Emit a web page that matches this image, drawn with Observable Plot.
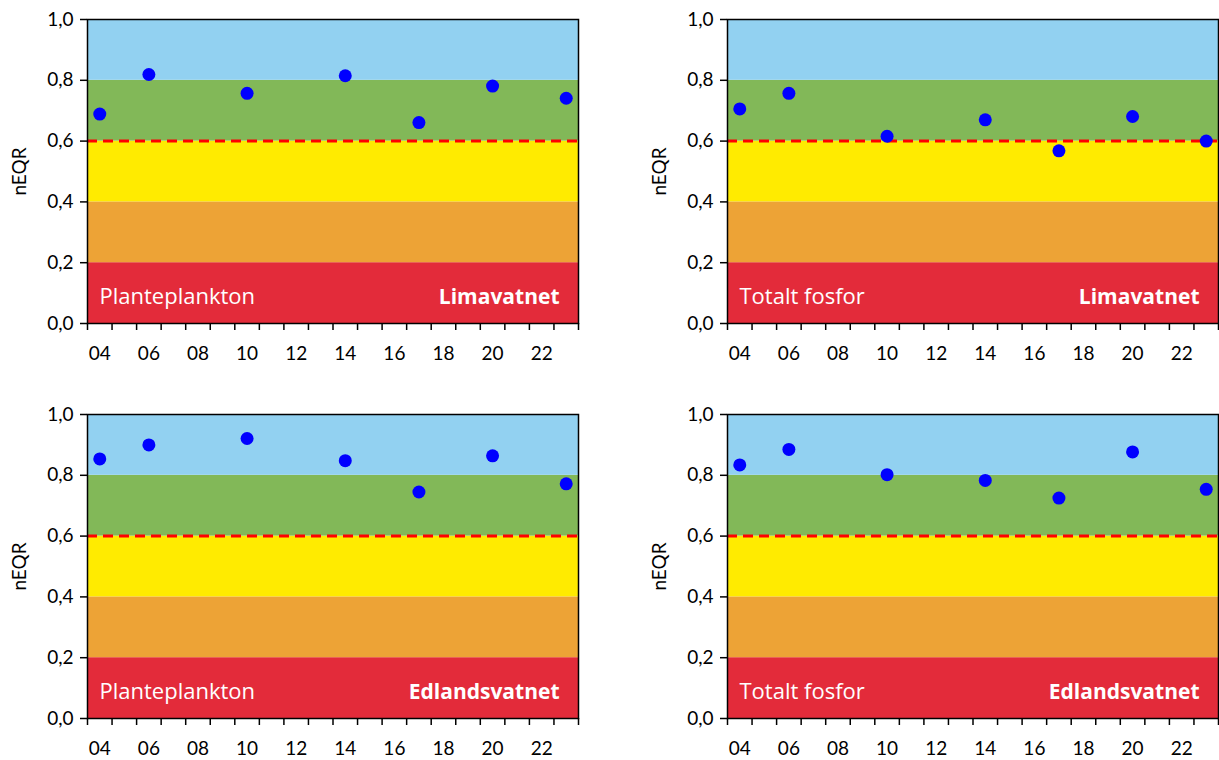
<!DOCTYPE html>
<html>
<head>
<meta charset="utf-8">
<script src="https://cdn.jsdelivr.net/npm/d3@7"></script>
<script src="https://cdn.jsdelivr.net/npm/@observablehq/plot@0.6"></script>
<style>
  html, body { margin: 0; padding: 0; background: #fff; overflow: hidden; }
  .panel { position: absolute; }
</style>
</head>
<body>
<div id="tl" class="panel" style="left:0;top:0"></div>
<div id="tr" class="panel" style="left:640px;top:0"></div>
<div id="bl" class="panel" style="left:0;top:395px"></div>
<div id="br" class="panel" style="left:640px;top:395px"></div>
<script>
// ---- data ----
const years = [2004, 2006, 2010, 2014, 2017, 2020, 2023];
const limaPlanteplankton = [0.689, 0.819, 0.757, 0.815, 0.661, 0.781, 0.741];
const limaFosfor        = [0.706, 0.757, 0.616, 0.670, 0.568, 0.681, 0.600];
const edlPlanteplankton = [0.854, 0.900, 0.921, 0.848, 0.745, 0.864, 0.772];
const edlFosfor         = [0.834, 0.885, 0.802, 0.783, 0.725, 0.877, 0.754];

const xLabelYears = [2004, 2006, 2008, 2010, 2012, 2014, 2016, 2018, 2020, 2022];
const yTicks = [0, 0.2, 0.4, 0.6, 0.8, 1.0];
const classBounds = [0, 0.2, 0.4, 0.6, 0.8, 1.0];
const classColors = ["#E32B3A", "#EDA336", "#FFEB00", "#82B858", "#92D1F1"];
const goodModerateBoundary = [0.6];
const xDomain = [2003.5, 2023.5];

const bands = classColors.map((c, i) => ({lo: classBounds[i], hi: classBounds[i + 1], color: c}));
const yearBoundaries = d3.range(xDomain[0], xDomain[1] + 0.01, 1);

function panel(el, values, leftLabel, rightLabel, opts) {
  const data = years.map((y, i) => ({year: y, value: values[i]}));
  const chart = Plot.plot({
    width: opts.width,
    height: opts.height,
    marginLeft: 87,
    marginRight: opts.marginRight,
    marginTop: 19,
    marginBottom: opts.height - 19 - 304,
    style: {fontFamily: "Lato, 'Open Sans', sans-serif", fontSize: "19px", color: "#000", background: "transparent"},
    x: {domain: xDomain},
    y: {domain: [0, 1]},
    marks: [
      Plot.rect(bands, {y1: "lo", y2: "hi", fill: "color"}),
      Plot.ruleY(goodModerateBoundary, {stroke: "#FF0000", strokeWidth: 3, strokeDasharray: "10,6"}),
      Plot.dot(data, {x: "year", y: "value", r: 6.5, fill: "#0000FF", stroke: "none"}),
      Plot.frame({stroke: "#000", strokeWidth: 1.5}),
      Plot.axisY({ticks: yTicks, tickSize: 7, tickPadding: 7, strokeWidth: 1.5, fontSize: 19,
        tickFormat: d => d.toFixed(1).replace(".", ","),
        label: "nEQR", labelAnchor: "center", labelOffset: 75, labelArrow: "none"}),
      Plot.axisX({ticks: yearBoundaries, tickSize: 7, strokeWidth: 1.5, tickFormat: () => "", label: null}),
      Plot.axisX({ticks: xLabelYears, tickSize: 0, tickPadding: 23, fontSize: 19,
        tickFormat: d => String(d % 100).padStart(2, "0"), label: null}),
      Plot.text([leftLabel], {frameAnchor: "bottom-left", dx: 12, dy: -20, fill: "#fff", fontSize: 22, fontFamily: "'Open Sans', sans-serif"}),
      Plot.text([rightLabel], {frameAnchor: "bottom-right", dx: -19, dy: -20, fill: "#fff", fontSize: 21, fontWeight: "bold", fontFamily: "'Open Sans', sans-serif"})
    ]
  });
  document.getElementById(el).append(chart);
}

panel("tl", limaPlanteplankton, "Planteplankton", "Limavatnet", {width: 609, height: 370, marginRight: 31});
panel("tr", limaFosfor, "Totalt fosfor", "Limavatnet", {width: 579, height: 370, marginRight: 1});
panel("bl", edlPlanteplankton, "Planteplankton", "Edlandsvatnet", {width: 609, height: 365, marginRight: 31});
panel("br", edlFosfor, "Totalt fosfor", "Edlandsvatnet", {width: 579, height: 365, marginRight: 1});
</script>
</body>
</html>
